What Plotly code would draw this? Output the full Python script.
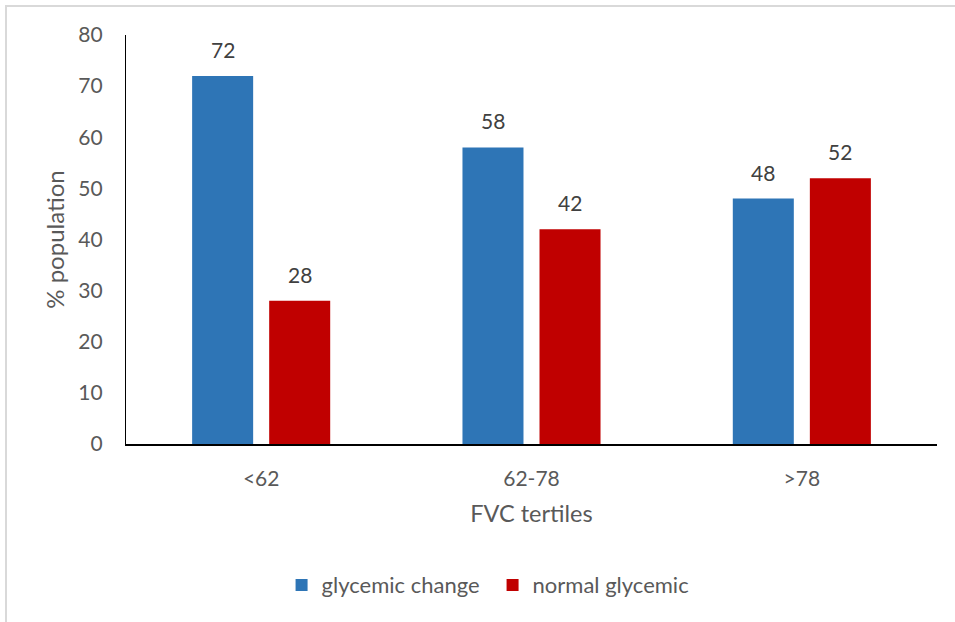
import plotly.graph_objects as go

categories = ["<62", "62-78", ">78"]
glycemic_change = [72, 58, 48]
normal_glycemic = [28, 42, 52]
y_ticks = [0, 10, 20, 30, 40, 50, 60, 70, 80]

BLUE = "#2E75B6"
RED = "#C00000"
GRAY = "#595959"
FONT = "Lato, 'Open Sans', sans-serif"

L, R, T, B = 126, 18, 35, 178
W, H = 955, 622
pw, ph = W - L - R, H - T - B

fig = go.Figure()
fig.add_trace(go.Bar(name="glycemic change", x=categories, y=glycemic_change,
                     marker=dict(color=BLUE, line=dict(width=0))))
fig.add_trace(go.Bar(name="normal glycemic", x=categories, y=normal_glycemic,
                     marker=dict(color=RED, line=dict(width=0))))

annotations = []
slot = pw / 3 * 0.57 / 2
for vals, shift in ((glycemic_change, -slot / 2), (normal_glycemic, slot / 2)):
    for c, v in zip(categories, vals):
        annotations.append(dict(x=c, y=v, xref="x", yref="y", text=str(v),
                                showarrow=False, yanchor="bottom", xshift=shift,
                                yshift=12, font=dict(size=21, color="#404040", family=FONT)))

fig.update_layout(
    width=W, height=H,
    margin=dict(l=L, r=R, t=T, b=B),
    paper_bgcolor="white", plot_bgcolor="white",
    barmode="group", bargap=0.43, bargroupgap=0.208,
    font=dict(family=FONT, color=GRAY, size=21),
    showlegend=True,
    legend=dict(orientation="h", x=0.452, xanchor="center", y=-0.345, yanchor="middle",
                font=dict(size=22, color=GRAY), itemwidth=30, traceorder="normal",
                entrywidth=166),
    xaxis=dict(showline=True, linecolor="black", linewidth=2, showgrid=False,
               ticks="", ticklabelstandoff=15, tickfont=dict(size=21, color=GRAY),
               title=dict(text="FVC tertiles", font=dict(size=23.5, color=GRAY), standoff=16)),
    yaxis=dict(range=[0, 80], tickvals=y_ticks, showline=True, linecolor="black",
               linewidth=1.3, showgrid=False, zeroline=False, ticks="",
               ticklabelstandoff=18, tickfont=dict(size=21, color=GRAY),
               title=dict(text="% population", font=dict(size=24, color=GRAY), standoff=6)),
    annotations=annotations,
    shapes=[dict(type="rect", xref="paper", yref="paper",
                 x0=(6 - L) / pw, x1=1.2, y0=-0.6, y1=(H - B - 6) / ph,
                 line=dict(color="#D9D9D9", width=2), layer="below")],
)

fig.write_html("out.html", config={"displayModeBar": False},
               post_script="document.body.style.margin='0';")
